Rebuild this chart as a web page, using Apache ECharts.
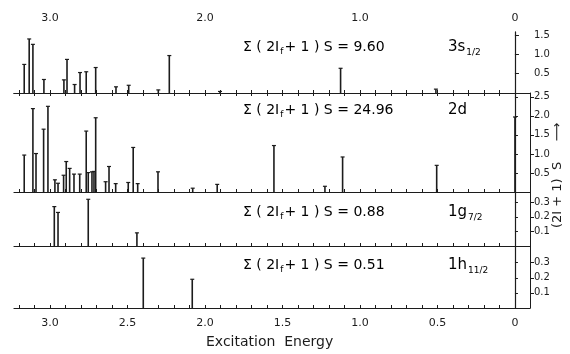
<!DOCTYPE html>
<html>
<head>
<meta charset="utf-8">
<script src="https://cdn.jsdelivr.net/npm/echarts@6/dist/echarts.min.js"></script>
<style>
  html, body {margin: 0; padding: 0; background: #fff;}
  #main {width: 570px; height: 354px;}
</style>
</head>
<body>
<div id="main"></div>
<script>
// excitation energy (MeV) and (2J+1)S strength for each transfer
const energy3s = [3.166, 3.134, 3.110, 3.039, 2.910, 2.890, 2.841, 2.806, 2.766, 2.705, 2.574, 2.492, 2.301, 2.230, 1.903, 1.125, 0.510];
const strength3s = [0.74, 1.40, 1.26, 0.35, 0.34, 0.87, 0.22, 0.53, 0.55, 0.66, 0.16, 0.20, 0.08, 0.97, 0.04, 0.64, 0.10];

const energy2d = [3.166, 3.110, 3.090, 3.041, 3.013, 2.968, 2.948, 2.912, 2.895, 2.873, 2.845, 2.808, 2.766, 2.753, 2.729, 2.716, 2.705, 2.641, 2.619, 2.576, 2.495, 2.463, 2.434, 2.303, 2.079, 1.921, 1.555, 1.226, 1.112, 0.505, 0.0];
const strength2d = [0.97, 2.19, 1.01, 1.65, 2.25, 0.32, 0.23, 0.44, 0.80, 0.62, 0.47, 0.47, 1.60, 0.51, 0.53, 0.54, 1.95, 0.27, 0.67, 0.22, 0.25, 1.17, 0.22, 0.53, 0.10, 0.20, 1.22, 0.15, 0.92, 0.70, 1.97];

const energy1g = [2.972, 2.948, 2.753, 2.439];
const strength1g = [0.27, 0.23, 0.32, 0.09];

const energy1h = [2.398, 2.082];
const strength1h = [0.33, 0.19];

const sums = ['9.60', '24.96', '0.88', '0.51'];
const bottomTicks = [0, 0.5, 1.0, 1.5, 2.0, 2.5, 3.0];
const topTicks = [0, 1, 2, 3];
const yTicks = [
  [0.5, 1.0, 1.5],
  [0.5, 1.0, 1.5, 2.0, 2.5],
  [0.1, 0.2, 0.3],
  [0.1, 0.2, 0.3]
];
const yMax = [1.58, 2.6, 0.37, 0.41];

const ink = '#1c1c1c';
const font = 'DejaVu Sans';
const xMin = -0.097, xMax = 3.232;

const minorTicks = [];
for (let i = 0; i <= 32; i++) minorTicks.push(i / 10);

const panels = [
  {top: 32, height: 61},
  {top: 93, height: 99},
  {top: 192, height: 54},
  {top: 246, height: 62}
];

const chart = echarts.init(document.getElementById('main'));

const grids = panels.map(p => ({left: 14, right: 40, top: p.top, height: p.height, show: false}));

const fmt = v => v === 0 ? '0' : v.toFixed(1);

const xAxes = panels.map((p, i) => ({
  type: 'value', gridIndex: i, inverse: true, min: xMin, max: xMax, position: 'bottom',
  axisLine: {show: true, lineStyle: {color: ink, width: 1.2}},
  axisTick: {show: true, inside: true, length: 3, customValues: minorTicks, lineStyle: {color: ink}},
  axisLabel: i === 3 ? {
    show: true, customValues: bottomTicks, color: ink, fontFamily: font, fontSize: 11, margin: 10, formatter: fmt
  } : {show: false},
  splitLine: {show: false}
}));
xAxes.push({
  type: 'value', gridIndex: 0, inverse: true, min: xMin, max: xMax, position: 'top',
  axisLine: {show: true, lineStyle: {color: ink, width: 1.2}},
  axisTick: {show: true, inside: true, length: 3, customValues: minorTicks, lineStyle: {color: ink}},
  axisLabel: {show: true, customValues: topTicks, color: ink, fontFamily: font, fontSize: 11, margin: 8, formatter: fmt},
  splitLine: {show: false}
});

const yAxes = [];
panels.forEach((p, i) => {
  yAxes.push({
    type: 'value', gridIndex: i, position: 'left', min: 0, max: yMax[i],
    axisLine: {show: true, lineStyle: {color: ink, width: 1.2}},
    axisTick: {show: true, inside: true, length: 3, customValues: yTicks[i], lineStyle: {color: ink}},
    axisLabel: {show: false}, splitLine: {show: false}
  });
});
panels.forEach((p, i) => {
  yAxes.push({
    type: 'value', gridIndex: i, position: 'right', min: 0, max: yMax[i],
    axisLine: {show: true, lineStyle: {color: ink, width: 1}},
    axisTick: {show: true, inside: false, length: 4, customValues: yTicks[i], lineStyle: {color: ink}},
    axisLabel: {show: true, customValues: yTicks[i], color: ink, fontFamily: font, fontSize: 10, margin: 4,
      formatter: v => v.toFixed(1)},
    splitLine: {show: false}
  });
});

function spike(params, api) {
  const x = api.value(0), y = api.value(1);
  const p0 = api.coord([x, 0]);
  const p1 = api.coord([x, y]);
  return {
    type: 'group',
    children: [
      {type: 'line', shape: {x1: p0[0], y1: p0[1], x2: p1[0], y2: p1[1]}, style: {stroke: ink, lineWidth: 1.6}},
      {type: 'line', shape: {x1: p1[0] - 2, y1: p1[1], x2: p1[0] + 2, y2: p1[1]}, style: {stroke: ink, lineWidth: 1.2}}
    ]
  };
}

const sets = [[energy3s, strength3s], [energy2d, strength2d], [energy1g, strength1g], [energy1h, strength1h]];
const series = sets.map((s, i) => ({
  type: 'custom', xAxisIndex: i, yAxisIndex: i, renderItem: spike,
  encode: {x: 0, y: 1}, silent: true,
  data: s[0].map((e, k) => [e, s[1][k]])
}));

const rich = {
  t: {fontFamily: font, fontSize: 14, color: ink},
  o: {fontFamily: font, fontSize: 15, color: ink},
  sub: {fontFamily: font, fontSize: 9, color: ink, padding: [10, 1, 0, 1]}
};
const labelY = [50, 113, 215, 268];
const orbitals = [
  ['3s', '1/2'], ['2d', ''], ['1g', '7/2'], ['1h', '11/2']
];
const graphics = [];
labelY.forEach((y, i) => {
  graphics.push({
    type: 'text', left: 243, top: y - 10,
    style: {text: '{t|Σ ( 2I}{sub|f}{t|+ 1 ) S = ' + sums[i] + '}', rich: rich}
  });
  graphics.push({
    type: 'text', left: 448, top: y - 10,
    style: {text: '{o|' + orbitals[i][0] + '}' + (orbitals[i][1] ? '{sub|' + orbitals[i][1] + '}' : ''), rich: rich}
  });
});
graphics.push({
  type: 'text', left: 206, top: 335,
  style: {text: 'Excitation  Energy', fontFamily: font, fontSize: 14, fill: ink}
});
graphics.push({
  type: 'text', x: 551, y: 228, rotation: Math.PI / 2,
  style: {text: '(2I + 1)  S     ⟶', fontFamily: font, fontSize: 13, fill: ink}
});

chart.setOption({
  backgroundColor: '#fff',
  animation: false,
  grid: grids,
  xAxis: xAxes,
  yAxis: yAxes,
  series: series,
  graphic: graphics
});
</script>
</body>
</html>
